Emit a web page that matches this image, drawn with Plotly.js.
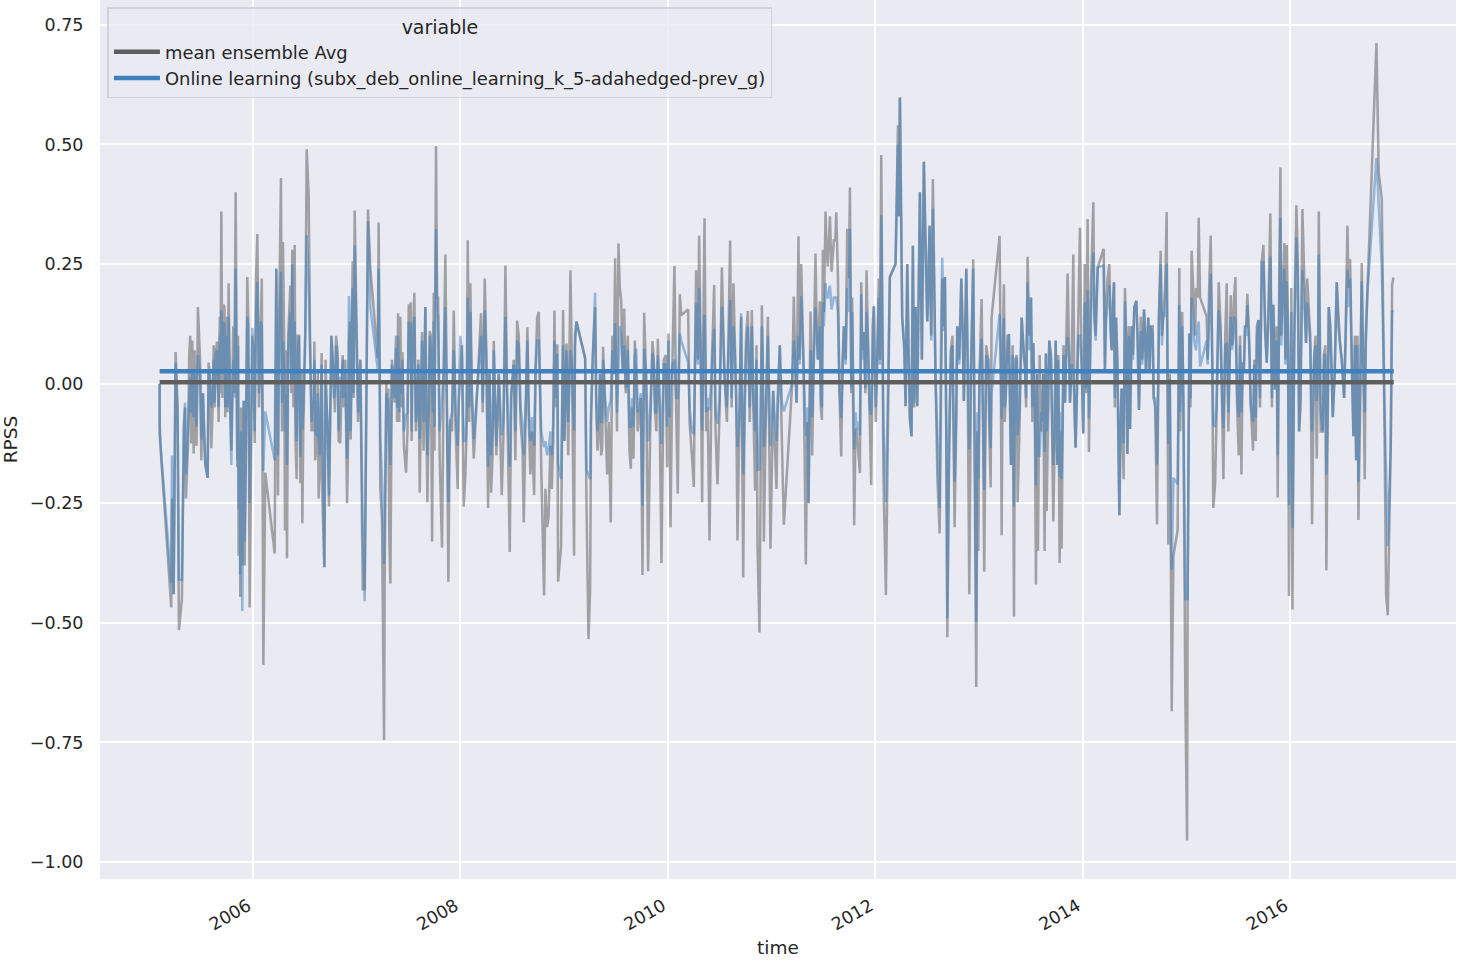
<!DOCTYPE html>
<html>
<head>
<meta charset="utf-8">
<script src="https://cdn.plot.ly/plotly-3.0.1.min.js"></script>
<style>html,body{margin:0;padding:0;background:#fff}</style>
</head>
<body>
<div id="chart" style="width:1460px;height:961px"></div>
<script>
// Decimal-year sample times, RPSS of the ensemble and RPSS of online learning
const time0506 = [
2005.10,2005.101,2005.116,2005.212,2005.219,2005.235,2005.254,2005.273,2005.286,2005.315,
2005.334,2005.354,2005.395,2005.405,2005.415,2005.428,2005.444,2005.469,2005.502,2005.518,
2005.540,2005.563,2005.572,2005.598,2005.621,2005.630,2005.653,2005.669,2005.695,2005.714,
2005.733,2005.765,2005.791,2005.833,2005.849,2005.862,2005.878,2005.897,2005.910,2005.920,
2005.945,2005.968,2005.994,2006.016,2006.042,2006.074,2006.10,2006.119,2006.209,2006.225,
2006.241,2006.27,2006.289,2006.309,2006.328,2006.36,2006.379,2006.402,2006.421,2006.444,
2006.457,2006.476,2006.518,2006.537,2006.576,2006.592,2006.617,2006.633,2006.662,2006.688,
2006.711,2006.733,2006.756,2006.781,2006.801,2006.826,2006.842,2006.865,2006.907,2006.926,
2006.942,2006.961,2006.981,2007.013];
const ens0506 = [
0,-.108,-.157,-.468,-.24,-.44,.066,-.05,-.515,-.45,
-.09,-.24,.10,-.125,.09,-.146,-.10,.16,-.16,-.02,
-.168,-.197,.044,-.135,.08,-.05,.088,-.08,.36,.165,
-.07,.21,-.14,.40,-.175,-.36,-.446,-.3,-.036,-.38,
.223,-.468,.10,-.124,.313,.16,-.588,-.186,-.355,.24,
-.234,.43,.296,-.307,-.365,.205,.28,.29,-.2,.1,
-.208,-.292,.49,.393,-.036,.088,-.12,-.24,.064,-.384,
-.055,-.257,.1,-.044,.1,-.12,-.124,.06,-.25,.084,
-.117,.256,.362,-.08];
const onl0506 = [
0,-.09,-.15,-.417,-.15,-.44,.044,-.07,-.41,-.41,
-.09,-.19,.015,-.06,.03,-.07,-.05,.06,-.117,-.02,
-.168,-.197,.03,-.05,.05,-.04,.07,-.05,.153,.13,
-.05,.14,-.17,.24,-.16,-.263,-.40,-.475,-.036,-.33,
.14,-.25,.117,-.1,.212,.13,-.183,-.058,-.16,.24,
-.15,.234,.09,-.1,-.17,.15,.25,.13,-.12,.1,
-.153,-.095,.31,.21,-.03,.05,-.11,-.11,.04,-.384,
-.055,-.234,.1,-.03,.08,-.1,.015,.05,-.157,.183,
-.10,.2,.289,-.06];

const time0708 = [
2007.035,2007.058,2007.077,2007.109,2007.132,2007.203,2007.212,2007.228,2007.244,2007.264,
2007.286,2007.305,2007.325,2007.35,2007.379,2007.399,2007.421,2007.441,2007.476,2007.502,
2007.521,2007.537,2007.556,2007.582,2007.608,2007.63,2007.662,2007.682,2007.704,2007.727,
2007.743,2007.765,2007.785,2007.823,2007.855,2007.884,2007.904,2007.936,2007.974,2008.0,
2008.032,2008.048,2008.071,2008.096,2008.129,2008.199,2008.235,2008.267,2008.296,2008.322,
2008.347,2008.399,2008.434,2008.476,2008.514,2008.547,2008.563,2008.611,2008.646,2008.675,
2008.711,2008.74,2008.756,2008.807,2008.836,2008.868,2008.881,2008.907,2008.923,2008.942];
const ens0708 = [
.05,-.43,-.43,.364,.24,.054,.337,-.22,-.285,-.745,
0,-.01,-.418,.02,.10,.147,.14,.066,-.186,.166,
.17,.054,.19,-.05,-.228,.108,.16,-.248,.11,-.33,
.19,.497,.18,-.343,.27,-.414,-.075,.153,-.22,.033,
-.257,-.19,.30,.21,-.157,.147,.22,-.26,-.228,.089,
-.15,-.233,.247,-.352,.05,.132,.10,-.29,.118,-.19,
-.233,.137,.15,-.443,-.30,-.13,-.22,.153,.08,-.414];
const onl0708 = [
.05,-.30,-.455,.34,.16,.03,.24,-.116,-.20,-.377,
-.02,-.03,-.17,.02,.075,.10,.033,.05,-.066,.13,
.128,.04,.14,-.05,-.116,.09,.16,-.15,.10,-.05,
.13,.323,.14,-.033,.16,-.248,-.075,.07,-.13,.10,
-.12,-.12,.18,.15,-.116,.10,.153,-.174,-.15,.07,
-.13,-.108,.14,-.174,.04,.09,.08,-.15,.09,-.12,
-.13,.09,.09,-.133,-.15,-.10,-.15,.09,.06,-.166];

const time0910 = [
2008.971,2008.99,2009.003,2009.023,2009.061,2009.096,2009.119,2009.203,2009.215,2009.235,
2009.251,2009.299,2009.322,2009.347,2009.367,2009.376,2009.415,2009.45,2009.492,2009.524,
2009.55,2009.579,2009.614,2009.643,2009.669,2009.695,2009.756,2009.772,2009.81,2009.852,
2009.878,2009.904,2009.939,2009.961,2009.994,2010.006,2010.026,2010.064,2010.096,2010.116,
2010.129,2010.196,2010.232,2010.251,2010.273,2010.302,2010.331,2010.354,2010.402,2010.447,
2010.479,2010.521,2010.547,2010.601,2010.633,2010.659,2010.672,2010.707,2010.727,2010.772,
2010.81,2010.842,2010.865,2010.884,2010.907,2010.926,2010.965];
const ens0910 = [
-.34,.154,-.12,.084,.237,-.36,.13,.052,-.237,-.534,
-.43,.16,-.14,.02,-.136,.077,-.19,-.29,.262,.293,
.175,.157,.10,-.178,-.157,.01,-.40,.148,-.392,.089,
-.06,.094,-.375,.049,-.175,.105,-.30,.246,-.23,.187,
.143,.155,-.15,-.216,.237,.309,-.248,.346,-.328,.206,
-.21,.243,.014,.299,.21,-.02,-.328,.14,-.405,.152,
.154,-.224,-.34,-.52,.164,-.33,.14];
const onl0910 = [
-.20,.08,-.12,.07,.07,-.098,.13,.055,-.18,-.19,
-.20,.19,-.10,.02,-.08,.05,-.08,-.035,.126,.056,
.10,.08,.07,-.09,-.09,.073,-.255,.073,-.12,.065,
-.06,.06,-.126,.04,-.09,.09,-.007,.05,-.03,.105,
.09,.045,-.10,-.105,.168,.20,-.098,.144,-.056,.115,
-.084,.161,.014,.175,.12,-.02,-.133,.147,-.19,.12,
.12,-.10,-.18,-.18,.12,-.133,.10];

const time1112 = [
2010.99,2011.016,2011.048,2011.08,2011.119,2011.199,2011.215,2011.241,2011.26,2011.286,
2011.331,2011.357,2011.376,2011.392,2011.424,2011.447,2011.466,2011.486,2011.505,2011.521,
2011.543,2011.563,2011.579,2011.601,2011.624,2011.64,2011.672,2011.698,2011.73,2011.756,
2011.778,2011.797,2011.82,2011.852,2011.865,2011.891,2011.916,2011.961,2011.987,2012.019,
2012.035,2012.058,2012.103,2012.141,2012.196,2012.219,2012.228,2012.238,2012.26,2012.293,
2012.309,2012.334,2012.35,2012.363,2012.389,2012.405,2012.431,2012.469,2012.502,2012.524,
2012.556,2012.582,2012.621,2012.646,2012.672,2012.695,2012.73,2012.765,2012.791,2012.83,
2012.855,2012.878,2012.907,2012.945];
const ens1112 = [
-.345,-.015,-.22,.08,-.295,0,.182,-.04,.308,.25,
-.378,-.25,.151,-.15,.272,.05,.172,-.076,.15,.36,
.245,.35,.234,.30,.358,.23,-.152,.12,.324,.41,
.18,-.296,-.094,-.187,.212,.108,.237,-.212,.162,.036,
.22,.478,-.442,.223,.25,.54,.35,.598,.14,-.047,
.25,-.072,-.11,.288,.16,-.047,.40,.464,.13,.33,
.428,.007,-.313,.22,.223,-.53,.07,-.3,.12,.22,
-.036,.24,-.44,.26];
const onl1112 = [
-.13,-.015,-.12,.08,-.058,0,.09,-.04,.10,.183,
-.11,-.25,.07,-.07,.16,.05,.12,-.05,.12,.21,
.18,.205,.155,.18,.18,.15,-.072,.12,.2,.324,
.15,-.137,-.094,-.108,.187,.108,.15,-.065,.162,.036,
.18,.352,-.248,.223,.25,.50,.35,.598,.14,-.047,
.25,-.072,-.11,.288,.16,-.047,.40,.464,.13,.33,
.366,.007,-.26,.263,.223,-.49,.07,-.205,.12,.22,
-.036,.24,-.137,.24];

const time1314 = [
2012.974,2012.994,2013.026,2013.051,2013.09,2013.113,2013.122,2013.199,2013.219,2013.241,
2013.26,2013.289,2013.309,2013.338,2013.354,2013.373,2013.412,2013.444,2013.469,2013.502,
2013.524,2013.55,2013.569,2013.585,2013.611,2013.633,2013.646,2013.653,2013.678,2013.717,
2013.74,2013.756,2013.778,2013.797,2013.83,2013.855,2013.878,2013.91,2013.932,2013.958,
2013.974,2014.006,2014.048,2014.061,2014.103,2014.113,2014.145,2014.203,2014.215,2014.257,
2014.28,2014.302,2014.322,2014.354,2014.376,2014.395,2014.408,2014.431,2014.457,2014.473,
2014.498,2014.518,2014.543,2014.592,2014.611,2014.633,2014.659,2014.685,2014.717,2014.736,
2014.752,2014.778,2014.81,2014.826,2014.859,2014.875];
const ens1314 = [
-.634,-.35,.177,-.393,.05,-.217,.138,.309,-.317,.208,
-.02,.103,-.17,-.487,.05,-.248,.138,.035,.265,.18,
.085,-.42,-.35,.06,-.08,-.35,.063,-.266,.09,-.288,
.09,-.17,-.375,-.345,-.04,.23,-.04,.27,-.134,.125,
.326,-.104,.344,-.143,.379,.142,.243,.282,.03,.25,
.07,.212,.138,-.275,-.01,-.2,.2,-.147,-.095,.12,
.16,.173,-.055,.155,.024,.138,.12,-.03,-.294,.145,
.278,.15,.359,-.336,-.685,-.36];
const onl1314 = [
-.498,-.20,.094,-.222,.05,-.135,-.02,.146,-.073,.137,
-.02,.103,-.17,-.257,.054,-.108,.138,.035,.212,.18,
.085,-.213,-.15,-.15,-.08,-.143,.063,-.1,.09,-.17,
.09,-.17,-.195,-.2,-.04,.098,-.04,.015,-.134,.10,
.10,-.104,.195,-.073,.274,.142,.243,.247,.03,.206,
.07,.212,.138,-.275,-.01,-.125,.172,-.147,-.095,.12,
.16,.173,-.055,.155,.024,.138,.12,-.03,-.169,.145,
.25,.15,.251,-.126,-.389,-.197];

const time1516 = [
2014.916,2014.932,2014.952,2014.971,2014.99,2015.007,2015.012,2015.029,2015.051,2015.074,
2015.093,2015.119,2015.132,2015.196,2015.235,2015.26,2015.277,2015.312,2015.357,2015.389,
2015.428,2015.447,2015.473,2015.505,2015.531,2015.543,2015.566,2015.588,2015.621,2015.643,
2015.669,2015.695,2015.727,2015.743,2015.775,2015.81,2015.839,2015.855,2015.881,2015.907,
2015.926,2015.945,2015.968,2015.99,2016.003,2016.023,2016.061,2016.087,2016.119,2016.154,
2016.212,2016.232,2016.257,2016.277,2016.315,2016.328,2016.35,2016.373,2016.412,2016.45,
2016.482,2016.521,2016.553,2016.579,2016.611,2016.637,2016.659,2016.691,2016.72,2016.746,
2016.833,2016.855,2016.884,2016.907,2016.926,2016.942,2016.971,2016.984,2016.997];
const ens1516 = [
-.306,.242,.11,-.036,-.65,-.955,-.45,.105,.278,.14,
.2,.347,.18,.14,.309,-.26,-.21,.212,-.2,.21,
.185,.085,.223,-.15,-.19,.044,.12,.188,-.044,-.14,
-.12,.133,.254,.29,.044,.356,.165,-.012,-.238,.452,
.165,.294,.29,-.444,-.05,-.472,.373,-.1,.365,.085,
-.294,.052,-.157,.36,-.1,.06,-.39,.16,-.07,.212,
.085,-.03,.33,.26,-.11,-.16,-.285,.252,-.2,.19,
.712,.44,.387,-.012,-.44,-.484,-.125,.206,.222];
const onl1516 = [
-.21,.165,.08,-.036,-.45,-.45,-.45,.105,.18,.09,
.07,.13,.036,.09,.23,-.085,-.09,.153,-.093,.085,
.14,.085,.133,-.07,-.06,.044,.12,.165,-.044,-.08,
-.07,.133,.254,.254,.044,.266,.165,-.012,-.15,.347,
.165,.24,.214,-.254,-.09,-.302,.306,-.1,.238,.085,
-.10,.052,-.036,.27,-.1,.06,-.19,.16,-.07,.212,
.085,-.03,.238,.22,-.11,-.16,-.206,.214,-.06,.19,
.472,.376,.246,-.012,-.19,-.34,-.125,.15,.153];

const timeFine0506 = [
2005.345,2005.375,2005.385,2005.437,2005.456,2005.49,2005.51,2005.53,2005.585,2005.61,
2005.64,2005.68,2005.685,2005.705,2005.725,2005.745,2005.755,2005.775,2005.81,2005.82,
2005.856,2005.87,2005.885,2005.903,2005.932,2005.955,2005.98,2006.005,2006.03,2006.058,
2006.085,2006.25,2006.28,2006.30,2006.318,2006.34,2006.37,2006.39,2006.41,2006.43,
2006.468,2006.485,2006.505,2006.55,2006.565,2006.585,2006.60,2006.625,2006.645,2006.67,
2006.70,2006.72,2006.745,2006.768,2006.79,2006.815,2006.85,2006.875,2006.89,2006.915,
2006.935,2006.95,2006.97];
const ensFine0506 = [
-.05,-.12,.06,.07,-.13,.05,-.09,-.11,.02,-.06,
.06,.14,-.02,-.03,.16,.14,-.06,.03,.12,-.02,
.10,-.2,-.05,-.38,-.15,.13,-.2,.06,.22,-.05,
.22,.1,-.1,.1,.07,.1,-.02,-.05,-.12,.1,
.03,-.1,.1,.1,-.1,-.1,-.16,.03,-.19,-.24,
.05,-.1,-.04,.05,-.06,.07,-.04,-.05,.05,-.15,
.13,.02,-.03];
const onlFine0506 = [
-.04,-.08,0,.02,-.09,.02,-.05,-.1,0,-.03,
.06,.1,.03,.02,.12,.1,-.05,0,.05,-.03,
.08,-.12,-.1,-.3,-.12,.12,-.12,.05,.15,-.02,
.12,.05,-.04,.03,-.02,.07,0,0,-.05,.06,
0,-.05,.12,.05,-.08,-.05,-.1,-.02,-.15,-.13,
0,-.08,-.05,.06,-.02,.05,-.03,-.03,.03,-.1,
.12,.02,-.02];

const timeFine0708 = [
2007.27,2007.295,2007.315,2007.34,2007.365,2007.39,2007.41,2007.43,2007.455,2007.49,
2007.513,2007.53,2007.57,2007.595,2007.62,2007.645,2007.672,2007.695,2007.715,2007.735,
2007.75,2007.775,2007.80,2007.84,2007.87,2007.895,2007.92,2007.955,2007.985,2008.015,
2008.06,2008.085,2008.11,2008.215,2008.25,2008.28,2008.31,2008.335,2008.37,2008.415,
2008.45,2008.49,2008.53,2008.58,2008.6,2008.63,2008.66,2008.69,2008.725,2008.78,
2008.82,2008.85,2008.895,2008.915,2008.935];
const ensFine0708 = [
-.4,-.1,-.33,.05,-.04,-.08,-.08,-.05,-.13,-.1,
.05,-.12,-.1,.05,-.05,-.14,-.07,-.06,.1,-.1,
-.14,.18,-.15,.05,-.05,-.16,-.1,-.1,-.04,.08,
-.1,-.08,-.03,-.06,.07,.03,-.15,-.08,.02,-.11,
-.02,-.03,-.16,-.08,-.14,-.06,-.08,-.1,.03,-.18,
-.22,-.28,-.12,-.05,.08];
const onlFine0708 = [
-.25,-.05,-.12,.04,-.03,-.05,-.06,-.02,-.1,-.06,
.03,-.1,-.08,.04,-.03,-.08,-.05,-.04,.07,-.06,
-.09,.15,-.1,.03,-.04,-.1,-.06,-.07,-.02,.06,
-.07,-.05,-.01,-.04,.05,.02,-.1,-.06,.02,-.08,
-.01,-.02,-.1,-.05,-.09,-.04,-.06,-.07,.03,-.1,
-.12,-.14,-.08,-.03,.06];

const timeFine0910 = [
2009.012,2009.04,2009.075,2009.105,2009.26,2009.275,2009.31,2009.335,2009.357,2009.395,
2009.43,2009.465,2009.48,2009.51,2009.537,2009.565,2009.595,2009.63,2009.655,2009.682,
2009.71,2009.74,2009.79,2009.83,2009.865,2009.89,2009.92,2009.95,2009.98,2010.016,
2010.045,2010.08,2010.21,2010.262,2010.29,2010.315,2010.34,2010.37,2010.385,2010.425,
2010.46,2010.5,2010.535,2010.57,2010.615,2010.645,2010.69,2010.74,2010.755,2010.79,
2010.825,2010.855,2010.895,2010.915,2010.945];
const ensFine0910 = [
-.05,-.15,.05,.1,-.08,.05,-.05,-.1,-.15,-.05,
-.08,.1,.02,-.1,.2,.03,-.02,-.14,-.05,.09,
-.1,-.03,.02,-.1,.05,-.1,-.05,-.08,.06,-.12,
.05,-.05,-.08,.05,.05,.1,.08,-.1,-.05,.05,
-.1,-.05,.12,-.08,-.05,.1,-.1,-.05,.1,-.08,
-.05,.08,-.05,.06,-.08];
const onlFine0910 = [
-.03,-.08,.04,.08,-.05,.04,-.03,-.06,-.08,-.03,
-.05,.07,.02,-.06,.12,.03,-.01,-.09,-.03,.06,
-.06,-.02,.02,-.06,.04,-.06,-.03,-.05,.04,-.07,
.04,-.03,-.05,.04,.04,.07,.05,-.06,-.03,.04,
-.06,-.03,.09,-.05,-.03,.07,-.06,-.03,.07,-.05,
-.03,.05,-.03,.05,-.05];

const timeFine1112 = [
2011.03,2011.06,2011.1,2011.225,2011.27,2011.31,2011.345,2011.385,2011.41,2011.435,
2011.475,2011.495,2011.53,2011.57,2011.615,2011.655,2011.685,2011.715,2011.745,2011.77,
2011.81,2011.84,2011.875,2011.905,2011.93,2011.945,2011.975,2012.005,2012.045,2012.08,
2012.28,2012.32,2012.375,2012.418,2012.45,2012.49,2012.51,2012.54,2012.6,2012.635,
2012.66,2012.685,2012.71,2012.745,2012.78,2012.81,2012.845,2012.89,2012.925];
const ensFine1112 = [
-.12,-.05,-.12,.08,.05,.03,-.08,.05,.1,.12,
-.05,.28,.29,.29,.3,-.02,.05,.05,.22,-.02,
-.1,-.15,.07,-.02,.1,-.1,.12,-.08,.05,-.2,
.08,.08,-.05,.18,.05,.26,.2,.1,-.2,.1,
.12,-.1,-.2,.1,-.1,.05,.1,.05,.05];
const onlFine1112 = [
-.07,-.03,-.04,.06,.04,.02,-.05,.04,.08,.1,
-.03,.17,.18,.17,.18,-.01,.04,.04,.15,-.01,
-.06,-.08,.05,-.01,.08,-.05,.1,-.05,.04,-.1,
.07,.07,-.04,.16,.05,.22,.17,.09,-.12,.09,
.11,-.08,-.12,.08,-.08,.04,.09,.04,.04];

const timeFine1314 = [
2012.985,2013.005,2013.04,2013.07,2013.1,2013.21,2013.23,2013.25,2013.275,2013.3,
2013.325,2013.345,2013.365,2013.39,2013.43,2013.455,2013.485,2013.515,2013.54,2013.56,
2013.6,2013.62,2013.665,2013.695,2013.73,2013.765,2013.79,2013.815,2013.84,2013.868,
2013.895,2013.92,2013.945,2013.99,2014.02,2014.035,2014.08,2014.125,2014.225,2014.24,
2014.27,2014.29,2014.31,2014.335,2014.365,2014.42,2014.445,2014.485,2014.53,2014.56,
2014.575,2014.6,2014.645,2014.675,2014.7,2014.765,2014.795,2014.84];
const ensFine1314 = [
-.1,.02,-.1,.08,-.1,.05,.05,-.08,.1,-.08,
.08,-.1,.06,-.1,.08,-.05,.1,-.08,-.1,.02,
-.1,.02,-.1,.06,-.12,.06,-.1,.08,.06,.08,
.05,-.05,-.02,.05,.25,-.02,.2,.1,.15,.22,
.12,.16,-.05,.05,-.1,.1,.12,.06,.1,.14,
.05,.12,.03,.12,-.05,.1,.2,.02];
const onlFine1314 = [
-.06,.01,-.05,.06,-.06,.04,.04,-.05,.07,-.05,
.06,-.06,.05,-.06,.06,-.03,.07,-.05,-.06,.02,
-.06,.02,-.06,.05,-.08,.05,-.06,.06,.05,.06,
.04,-.03,-.01,.04,.17,-.01,.14,.09,.13,.17,
.1,.13,-.03,.04,-.07,.08,.1,.05,.08,.11,
.04,.1,.03,.1,-.03,.08,.14,.01];

const timeFine1516 = [
2014.94,2014.96,2015.04,2015.065,2015.085,2015.11,2015.205,2015.22,2015.25,2015.29,
2015.33,2015.345,2015.375,2015.405,2015.44,2015.46,2015.49,2015.518,2015.555,2015.578,
2015.605,2015.632,2015.655,2015.68,2015.71,2015.76,2015.79,2015.825,2015.87,2015.895,
2015.915,2015.955,2015.98,2016.012,2016.04,2016.075,2016.1,2016.165,2016.195,2016.245,
2016.27,2016.295,2016.34,2016.362,2016.39,2016.43,2016.465,2016.5,2016.535,2016.565,
2016.595,2016.625,2016.65,2016.675,2016.705,2016.73];
const ensFine1516 = [
-.1,.15,-.05,.2,.1,.18,.05,.2,.05,-.08,
.12,-.05,.1,-.1,.08,.18,-.05,.1,.03,.12,
.1,-.1,.05,.12,-.05,.12,.15,-.05,.12,.2,
.1,.05,.12,.2,.1,.25,-.05,.22,.1,.1,
.05,-.1,.08,-.1,.12,.02,.15,.05,.1,.2,
.05,.1,.1,-.05,.05,.1];
const onlFine1516 = [
-.06,.12,-.03,.14,.08,.12,.04,.15,.04,-.05,
.1,-.03,.08,-.06,.07,.14,-.03,.08,.03,.1,
.08,-.06,.04,.1,-.03,.1,.12,-.03,.09,.15,
.08,.04,.09,.15,.07,.2,-.03,.17,.08,.08,
.04,-.06,.06,-.06,.09,.02,.12,.04,.08,.16,
.04,.08,.08,-.03,.04,.08];

const meanTime = [2005.10, 2017.0];
const meanEnsemble = [0.003, 0.003];
const meanOnline = [0.026, 0.026];

const yTicks = [-1, -0.75, -0.5, -0.25, 0, 0.25, 0.5, 0.75];
const xTicks = [2006, 2008, 2010, 2012, 2014, 2016];
const nameEnsemble = 'mean ensemble Avg';
const nameOnline = 'Online learning (subx_deb_online_learning_k_5-adahedged-prev_g)';

const timeAll = [].concat(time0506, time0708, time0910, time1112, time1314, time1516,
  timeFine0506, timeFine0708, timeFine0910, timeFine1112, timeFine1314, timeFine1516);
const ensAll = [].concat(ens0506, ens0708, ens0910, ens1112, ens1314, ens1516,
  ensFine0506, ensFine0708, ensFine0910, ensFine1112, ensFine1314, ensFine1516);
const onlAll = [].concat(onl0506, onl0708, onl0910, onl1112, onl1314, onl1516,
  onlFine0506, onlFine0708, onlFine0910, onlFine1112, onlFine1314, onlFine1516);
const order = timeAll.map((_, i) => i).sort((a, b) => timeAll[a] - timeAll[b]);
const time = order.map(i => timeAll[i]);
const ensemble = order.map(i => ensAll[i]);
const online = order.map(i => onlAll[i]);

const traces = [
  {x: time, y: ensemble, type: 'scatter', mode: 'lines', showlegend: false, hoverinfo: 'skip',
   line: {color: 'rgba(85,85,85,0.5)', width: 2.5}},
  {x: time, y: online, type: 'scatter', mode: 'lines', showlegend: false, hoverinfo: 'skip',
   line: {color: 'rgba(55,125,190,0.5)', width: 2.5}},
  {x: meanTime, y: meanEnsemble, type: 'scatter', mode: 'lines', name: nameEnsemble,
   line: {color: '#5e5e5e', width: 4.5}},
  {x: meanTime, y: meanOnline, type: 'scatter', mode: 'lines', name: nameOnline,
   line: {color: '#3f80bd', width: 4.5}}
];

const layout = {
  width: 1460, height: 961,
  margin: {l: 100, r: 4, t: 0, b: 82, pad: 0},
  paper_bgcolor: '#ffffff', plot_bgcolor: '#eaeaf2',
  font: {family: '"DejaVu Sans", sans-serif', size: 17.5, color: '#262626'},
  showlegend: true,
  legend: {
    x: 0.0055, xanchor: 'left', y: 0.9915, yanchor: 'top',
    bgcolor: 'rgba(234,234,242,0.8)', bordercolor: '#d2d2d9', borderwidth: 1.5,
    title: {text: 'variable', side: 'top center', font: {size: 19, color: '#262626'}},
    font: {size: 17.9, color: '#262626'}, itemwidth: 46, tracegroupgap: 0
  },
  xaxis: {
    type: 'linear', range: [2004.525, 2017.6],
    tickvals: xTicks, ticktext: xTicks.map(String), tickangle: -30,
    ticks: 'outside', ticklen: 9, tickcolor: 'rgba(0,0,0,0)', ticklabelshift: -5,
    showgrid: true, gridcolor: '#ffffff', gridwidth: 2, zeroline: false, showline: false,
    title: {text: 'time', standoff: 7, font: {size: 18.5}}
  },
  yaxis: {
    type: 'linear', range: [-1.0355, 0.802],
    tickvals: yTicks, tickformat: '.2f',
    ticks: 'outside', ticklen: 12, tickcolor: 'rgba(0,0,0,0)',
    showgrid: true, gridcolor: '#ffffff', gridwidth: 2, zeroline: false, showline: false,
    title: {text: 'RPSS', standoff: 13, font: {size: 18.5}}
  }
};

Plotly.newPlot('chart', traces, layout, {displayModeBar: false, responsive: false});
</script>
</body>
</html>
